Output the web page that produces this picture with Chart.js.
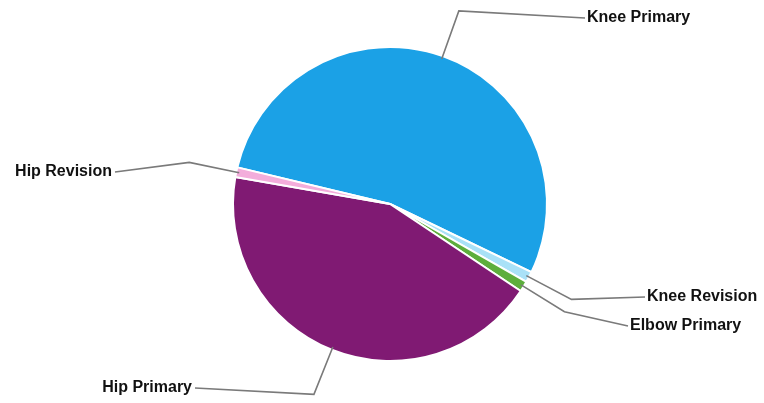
<!DOCTYPE html>
<html><head><meta charset="utf-8">
<script src="https://cdn.jsdelivr.net/npm/chart.js@4"></script>
<style>html,body{margin:0;padding:0;background:#fff;overflow:hidden}#wrap{width:764px;height:403px;position:relative}</style>
</head><body><div id="wrap"><canvas id="c"></canvas></div>
<script>
const categories = ['Knee Primary', 'Knee Revision', 'Elbow Primary', 'Hip Primary', 'Hip Revision'];
const values = [53.4, 1.1, 1.1, 43.4, 1.0];
const colors = ['#1BA1E6', '#A9E1F7', '#5DAE3C', '#801A73', '#F3ADDB'];

// label text placement (layout only)
const labelSpots = [
  {x: 587, y: 18, side: 'left'},
  {x: 647, y: 297, side: 'left'},
  {x: 630, y: 326, side: 'left'},
  {x: 192, y: 388, side: 'right'},
  {x: 112, y: 172, side: 'right'}
];
const elbowRadius = 205;

const leaderPlugin = {
  id: 'leaders',
  afterDatasetsDraw(chart) {
    const ctx = chart.ctx;
    const meta = chart.getDatasetMeta(0);
    ctx.save();
    meta.data.forEach((arc, i) => {
      const p = arc.getProps(['x', 'y', 'startAngle', 'endAngle', 'outerRadius'], true);
      const mid = (p.startAngle + p.endAngle) / 2;
      const c = Math.cos(mid), s = Math.sin(mid);
      const ax = p.x + c * (p.outerRadius - 3), ay = p.y + s * (p.outerRadius - 3);
      const ex = p.x + c * elbowRadius, ey = p.y + s * elbowRadius;
      const spot = labelSpots[i];
      const lx = spot.side === 'left' ? spot.x - 2 : spot.x + 3;
      ctx.strokeStyle = '#7a7a7a';
      ctx.lineWidth = 1.6;
      ctx.beginPath();
      ctx.moveTo(ax, ay);
      ctx.lineTo(ex, ey);
      ctx.lineTo(lx, spot.y);
      ctx.stroke();
      ctx.fillStyle = '#111';
      ctx.font = 'bold 16px "Liberation Sans", Arial, sans-serif';
      ctx.textBaseline = 'middle';
      ctx.textAlign = spot.side;
      ctx.fillText(categories[i], spot.x, spot.y);
    });
    ctx.restore();
  }
};

new Chart(document.getElementById('c'), {
  type: 'pie',
  data: {
    labels: categories,
    datasets: [{
      data: values,
      backgroundColor: colors,
      borderColor: '#ffffff',
      borderWidth: 2
    }]
  },
  options: {
    responsive: true,
    maintainAspectRatio: false,
    animation: false,
    rotation: 283.5,
    layout: {padding: {left: 200, right: 184, top: 46, bottom: 41}},
    plugins: {legend: {display: false}, tooltip: {enabled: false}}
  },
  plugins: [leaderPlugin]
});
</script>
</body></html>
